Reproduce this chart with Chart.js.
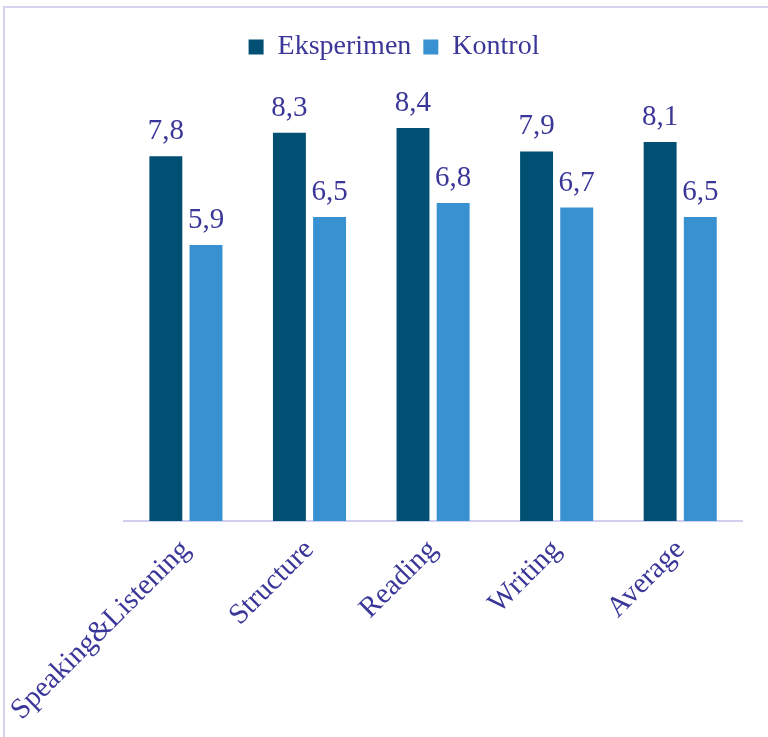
<!DOCTYPE html>
<html>
<head>
<meta charset="utf-8">
<script src="https://cdn.jsdelivr.net/npm/chart.js@4/dist/chart.umd.min.js"></script>
<style>
  html, body { margin: 0; padding: 0; background: #fff; }
  #wrap { position: relative; width: 768px; height: 737px; }
  #frame { position: absolute; left: 3px; top: 6px; width: 800px; height: 800px; border: 2px solid #d4d4f0; box-sizing: border-box; pointer-events: none; }
</style>
</head>
<body>
<div id="wrap">
  <canvas id="c" width="768" height="737"></canvas>
  <div id="frame"></div>
</div>
<script>
const categories = ["Speaking&Listening", "Structure", "Reading", "Writing", "Average"];
const eksperimen = [7.8, 8.3, 8.4, 7.9, 8.1];
const kontrol = [5.9, 6.5, 6.8, 6.7, 6.5];
const seriesNames = ["Eksperimen", "Kontrol"];

const textColor = '#3b3799';
const serif = "'Liberation Serif', 'Times New Roman', serif";

const legendExtra = {
  id: 'legendExtra',
  beforeInit(chart) {
    const fit = chart.legend.fit;
    chart.legend.fit = function () {
      fit.call(this);
      this.height += 29;
    };
  }
};

const valueLabels = {
  id: 'valueLabels',
  afterDatasetsDraw(chart) {
    const ctx = chart.ctx;
    ctx.save();
    ctx.font = "29px " + serif;
    ctx.fillStyle = textColor;
    ctx.textAlign = 'center';
    ctx.textBaseline = 'alphabetic';
    chart.data.datasets.forEach((ds, i) => {
      const meta = chart.getDatasetMeta(i);
      meta.data.forEach((bar, j) => {
        const txt = ds.data[j].toFixed(1).replace('.', ',');
        ctx.fillText(txt, bar.x, bar.y - 17);
      });
    });
    ctx.restore();
  }
};

new Chart(document.getElementById('c'), {
  type: 'bar',
  data: {
    labels: categories,
    datasets: [
      { label: seriesNames[0], data: eksperimen, backgroundColor: '#024f74', categoryPercentage: 0.65, barPercentage: 0.82 },
      { label: seriesNames[1], data: kontrol, backgroundColor: '#3891d0', categoryPercentage: 0.65, barPercentage: 0.82 }
    ]
  },
  options: {
    responsive: false,
    animation: false,
    layout: { padding: { left: 46, right: 26, top: 21, bottom: 0 } },
    plugins: {
      legend: {
        position: 'top',
        labels: {
          boxWidth: 15, boxHeight: 15, padding: 12,
          color: textColor,
          font: { family: serif, size: 28 }
        }
      },
      tooltip: { enabled: false }
    },
    scales: {
      x: {
        grid: { display: false },
        border: { display: true, color: '#d0cff0', width: 2 },
        ticks: {
          color: textColor,
          font: { family: serif, size: 29 },
          minRotation: 45, maxRotation: 45,
          padding: 4
        },
        afterFit(scale) { scale.height = 216; }
      },
      y: {
        display: true,
        min: 0, max: 9,
        grid: { display: false },
        border: { display: false },
        ticks: { display: false },
        afterFit(scale) { scale.width = 76; }
      }
    }
  },
  plugins: [legendExtra, valueLabels]
});
</script>
</body>
</html>
